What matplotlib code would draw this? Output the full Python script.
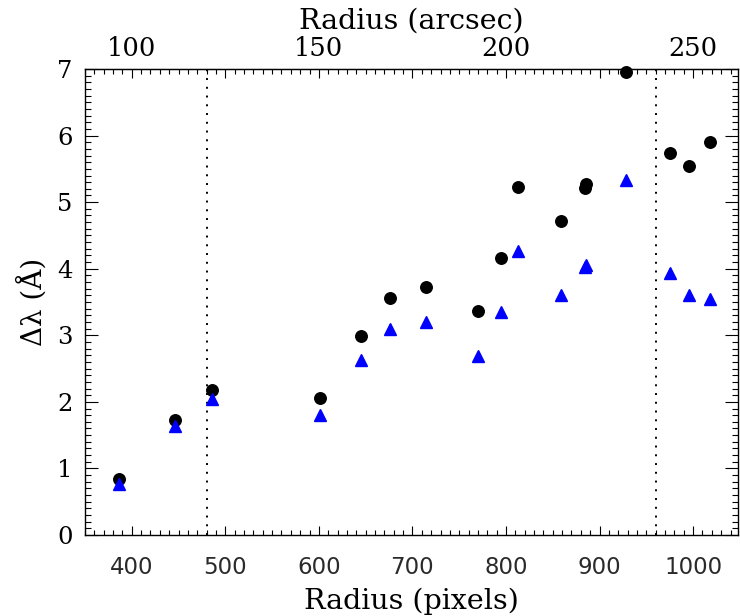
import matplotlib
matplotlib.use('Agg')
import matplotlib.pyplot as plt
from matplotlib.ticker import MultipleLocator, FuncFormatter

# radius in pixels, shared by both series
radius_px = [386, 446, 486, 601, 645, 676, 715, 770, 795, 813,
             859, 884, 886, 928, 975, 996, 1018]
dlam_black = [0.84, 1.73, 2.18, 2.06, 2.99, 3.56, 3.73, 3.37, 4.16, 5.22,
              4.71, 5.21, 5.27, 6.96, 5.74, 5.54, 5.91]
dlam_blue = [0.77, 1.64, 2.05, 1.80, 2.63, 3.09, 3.20, 2.69, 3.35, 4.26,
             3.61, 4.03, 4.06, 5.33, 3.94, 3.60, 3.55]
boundaries_px = [480, 960]
arcsec_per_px = 0.25

serif = 'DejaVu Serif'

fig = plt.figure(figsize=(7.4, 6.16), dpi=100)
ax = fig.add_axes([85 / 740, 81 / 616, 653 / 740, 466 / 616])

ax.plot(radius_px, dlam_black, 'o', color='black', markersize=8.3, zorder=3, clip_on=False)
ax.plot(radius_px, dlam_blue, '^', color='blue', markersize=8.3, zorder=3, clip_on=False)
for xb in boundaries_px:
    ax.axvline(xb, color='black', lw=1.4, linestyle=(0, (1, 3.5)))

ax.set_xlim(350, 1048)
ax.set_ylim(0, 7)

ax.xaxis.set_major_locator(MultipleLocator(100))
ax.xaxis.set_minor_locator(MultipleLocator(10))
ax.yaxis.set_major_locator(MultipleLocator(1))
ax.yaxis.set_minor_locator(MultipleLocator(0.1))

ax.tick_params(axis='y', which='both', direction='in', left=True, right=True)
ax.tick_params(axis='y', which='major', length=9.2, width=0.8, pad=9,
               labelsize=17.5, labelfontfamily=serif)
ax.tick_params(axis='y', which='minor', length=4.6, width=0.8)

for sp in ax.spines.values():
    sp.set_linewidth(1.0)

ax.set_ylabel('Δλ (Å)', fontfamily=serif, fontsize=20, labelpad=7)

# top axis in arcsec
top = ax.secondary_xaxis('top', functions=(lambda x: x * arcsec_per_px,
                                           lambda x: x / arcsec_per_px))
top.xaxis.set_major_locator(MultipleLocator(25))
top.xaxis.set_minor_locator(MultipleLocator(2.5))
top.xaxis.set_major_formatter(FuncFormatter(
    lambda v, p: f'{v:.0f}' if abs(v % 50) < 1e-6 else ''))
top.tick_params(which='both', direction='in')
top.tick_params(which='major', length=6.7, width=0.8, pad=6,
                labelsize=18.5, labelfontfamily=serif)
top.tick_params(which='minor', length=3.4, width=0.8)
top.set_xlabel('Radius (arcsec)', fontfamily=serif, fontsize=20.5, labelpad=5)

# bottom axis in pixels
ax.xaxis.set_tick_params(which='both', direction='in', top=False, bottom=True)
ax.xaxis.set_tick_params(which='major', length=6.7, width=0.8, pad=15,
                         labelsize=16.5, labelcolor='#2a2a2a',
                         labelfontfamily='DejaVu Sans')
ax.xaxis.set_tick_params(which='minor', length=3.4, width=0.8)
ax.set_xlabel('Radius (pixels)', fontfamily=serif, fontsize=20.5)
ax.xaxis.set_label_coords(0.5, -0.112)

fig.savefig('out.png', dpi=100)
